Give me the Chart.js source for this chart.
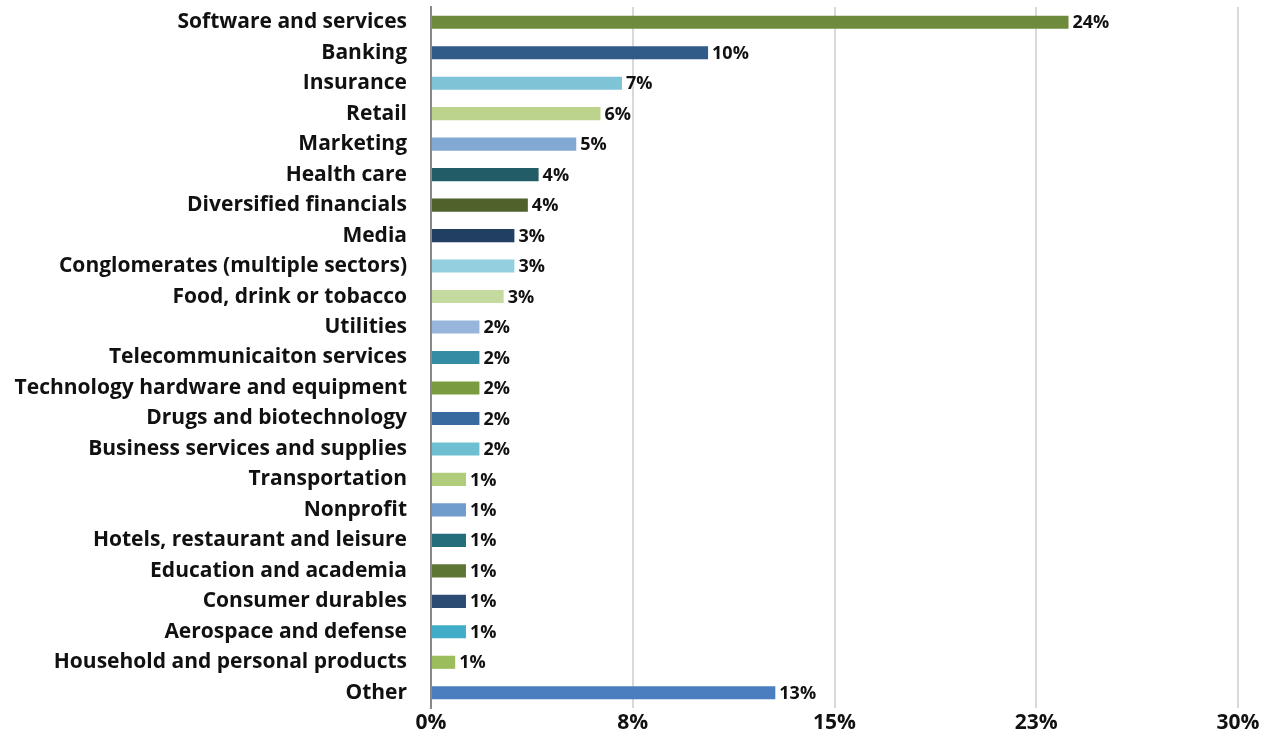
<!DOCTYPE html>
<html>
<script src="https://cdn.jsdelivr.net/npm/chart.js"></script>
<style type="text/css">
  body { margin: 0; background: #fff; }
  .chartBox { width: 1275px; height: 736px; }
</style>
<body>
  <div class="chartBox">
    <canvas id="myChart" width="1275" height="736"></canvas>
  </div>

  <script>
    const sectors = [
      'Software and services', 'Banking', 'Insurance', 'Retail', 'Marketing',
      'Health care', 'Diversified financials', 'Media', 'Conglomerates (multiple sectors)',
      'Food, drink or tobacco', 'Utilities', 'Telecommunicaiton services',
      'Technology hardware and equipment', 'Drugs and biotechnology',
      'Business services and supplies', 'Transportation', 'Nonprofit',
      'Hotels, restaurant and leisure', 'Education and academia', 'Consumer durables',
      'Aerospace and defense', 'Household and personal products', 'Other'
    ];
    const shares = [
      23.7, 10.3, 7.1, 6.3, 5.4, 4.0, 3.6, 3.1, 3.1, 2.7, 1.8, 1.8,
      1.8, 1.8, 1.8, 1.3, 1.3, 1.3, 1.3, 1.3, 1.3, 0.9, 12.8
    ];
    const barColors = [
      '#6e8b3d', '#305a87', '#7fc4d6', '#bcd38b', '#82a8d4', '#225c66', '#4f622c',
      '#203f61', '#93d0df', '#c4da9f', '#98b5db', '#338ca3', '#7b9c3e', '#386aa0',
      '#6fbfd2', '#b1cc7b', '#709ccd', '#246e7c', '#5e7634', '#2c4b73', '#42adc8',
      '#9cbd5b', '#4a7ebf'
    ];
    const xTicks = [0, 7.5, 15, 22.5, 30];

    const fontFam = '"Open Sans", Lato, sans-serif';

    // percent labels at the end of each bar
    const barLabels = {
      id: 'barLabels',
      afterDatasetsDraw(chart) {
        const c = chart.ctx;
        const meta = chart.getDatasetMeta(0);
        c.save();
        c.font = 'bold 18px ' + fontFam;
        c.fillStyle = '#111';
        c.textAlign = 'left';
        c.textBaseline = 'middle';
        meta.data.forEach((bar, i) => {
          c.fillText(Math.round(shares[i]) + '%', bar.x + 4, bar.y + 1);
        });
        c.restore();
      }
    };

    var ctx = document.getElementById('myChart').getContext('2d');
    var myChart = new Chart(ctx, {
      type: 'bar',
      data: {
        labels: sectors,
        datasets: [{
          data: shares,
          backgroundColor: barColors,
          barPercentage: 0.86,
          categoryPercentage: 0.5
        }]
      },
      plugins: [barLabels],
      options: {
        indexAxis: 'y',
        responsive: false,
        animation: false,
        layout: { padding: { top: 7, right: 37, bottom: 0, left: 0 } },
        plugins: {
          legend: false,
          tooltip: { enabled: false }
        },
        scales: {
          x: {
            min: 0,
            max: 30,
            afterBuildTicks(axis) {
              axis.ticks = xTicks.map(v => ({ value: v }));
            },
            afterFit(axis) { axis.height = 28; },
            grid: { color: '#d9d9d9', lineWidth: 2, drawTicks: false },
            border: { display: false },
            ticks: {
              padding: 2,
              color: '#111',
              font: { family: fontFam, size: 21, weight: 'bold' },
              callback: v => Math.round(v) + '%'
            }
          },
          y: {
            afterFit(axis) {
              axis.width = 431;
              axis.paddingTop = 0;
              axis.paddingBottom = 0;
            },
            grid: { display: false, drawTicks: false },
            border: { color: '#888', width: 2 },
            ticks: {
              padding: 24,
              autoSkip: false,
              color: '#111',
              font: { family: fontFam, size: 21, weight: 'bold' }
            }
          }
        }
      }
    });
  </script>

</body>
</html>
